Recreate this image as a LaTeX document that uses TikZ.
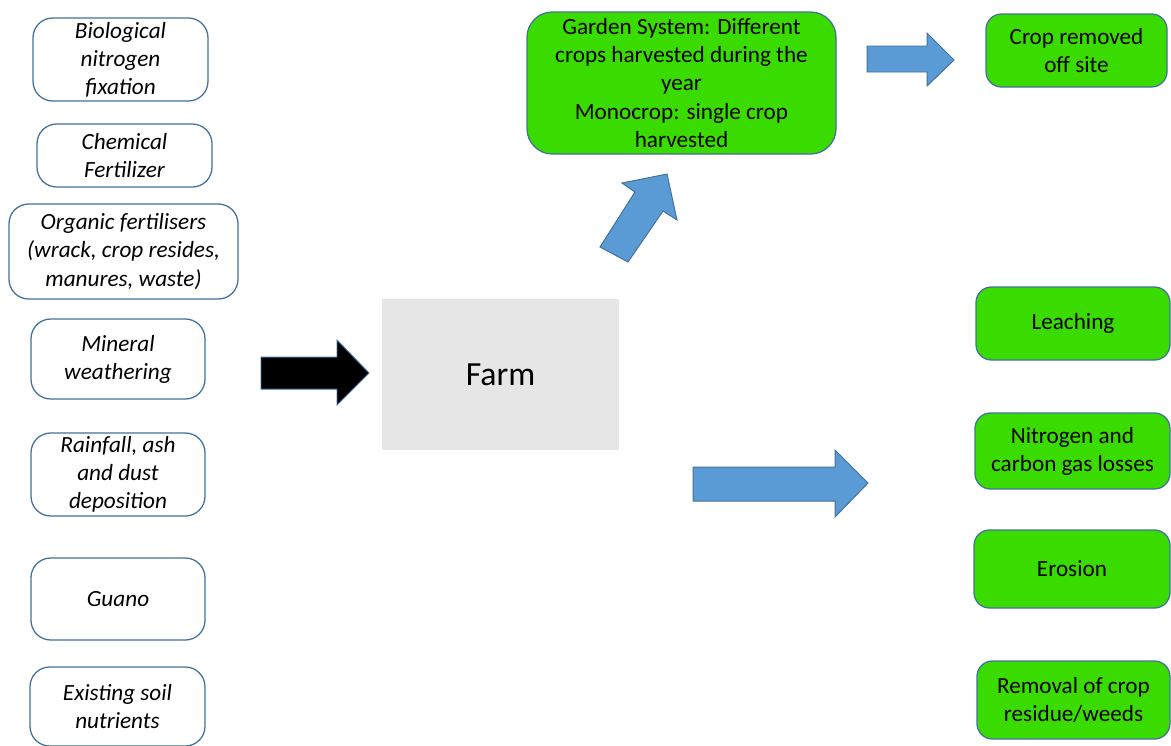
\documentclass[tikz,border=0pt]{standalone}
\usepackage{fontspec}
\setmainfont{Carlito}
\definecolor{boxline}{RGB}{65,113,156}
\definecolor{leafgreen}{RGB}{58,220,0}
\definecolor{farmgray}{RGB}{230,230,230}
\definecolor{flowblue}{RGB}{91,155,213}
\tikzset{
  sz/.style 2 args={minimum width=#1*0.025cm, minimum height=#2*0.025cm}
}
\begin{document}
\begin{tikzpicture}[
    x=0.025cm, y=-0.025cm,
    source/.style={draw=boxline, line width=0.9pt, rounded corners=14pt, fill=white,
      align=center, inner sep=2pt, font=\fontsize{16.5}{20}\selectfont\itshape},
    sink/.style={draw=boxline, line width=0.9pt, rounded corners=11pt, fill=leafgreen,
      align=center, inner sep=2pt, font=\fontsize{16.5}{20}\selectfont},
    farm/.style={fill=farmgray, align=center, font=\fontsize{24}{28}\selectfont},
    blockarrow/.style={draw=boxline, line width=0.7pt, fill=flowblue, line join=miter}
  ]
  \useasboundingbox (0,0) rectangle (1171,745);

  % Inputs
  \node[source, sz={175}{83}] (bio) at (120.5,59.5) {Biological\\nitrogen\\fixation};
  \node[source, sz={175}{63}] (chem) at (124.5,155.5) {Chemical\\Fertilizer};
  \node[source, sz={229}{95}] (org) at (123.5,251.5) {Organic fertilisers\\(wrack, crop resides,\\manures, waste)};
  \node[source, sz={174}{80}] (mineral) at (118,359) {Mineral\\weathering};
  \node[source, sz={174}{83}] (rain) at (118,474.5) {Rainfall, ash\\and dust\\deposition};
  \node[source, sz={174}{82}] (guano) at (118,599) {Guano};
  \node[source, sz={175}{79}] (soil) at (117.5,706.5) {Existing soil\\nutrients};

  % Farm
  \node[farm, sz={237}{151}] (farm) at (500.5,374.5) {Farm};

  % Outputs
  \node[sink, sz={309}{142}, rounded corners=18pt] (garden) at (681.5,83)
    {Garden System: Different\\crops harvested during the\\year\\Monocrop: single crop\\harvested};
  \node[sink, sz={181}{73}] (offsite) at (1076.5,50.5) {Crop removed\\off site};
  \node[sink, sz={194}{73}] (leach) at (1073,323.5) {Leaching};
  \node[sink, sz={195}{76}] (gas) at (1072.5,451) {Nitrogen and\\carbon gas losses};
  \node[sink, sz={196}{78}] (erosion) at (1072,569) {Erosion};
  \node[sink, sz={193}{78}] (residue) at (1073.5,700) {Removal of crop\\residue/weeds};

  % Block arrows
  \draw[blockarrow, fill=black] (261,357) -- (337,357) -- (337,340) -- (369,373)
    -- (337,405) -- (337,389) -- (261,389) -- cycle;
  \draw[blockarrow] (600,247) -- (635,192) -- (622,183) -- (667,174)
    -- (677,220) -- (663,211) -- (628,262) -- cycle;
  \draw[blockarrow] (867,46) -- (927,46) -- (927,33) -- (954,60)
    -- (927,86) -- (927,72) -- (867,72) -- cycle;
  \draw[blockarrow] (693,467) -- (835,467) -- (835,450) -- (868,483)
    -- (835,517) -- (835,501) -- (693,501) -- cycle;

\end{tikzpicture}
\end{document}
